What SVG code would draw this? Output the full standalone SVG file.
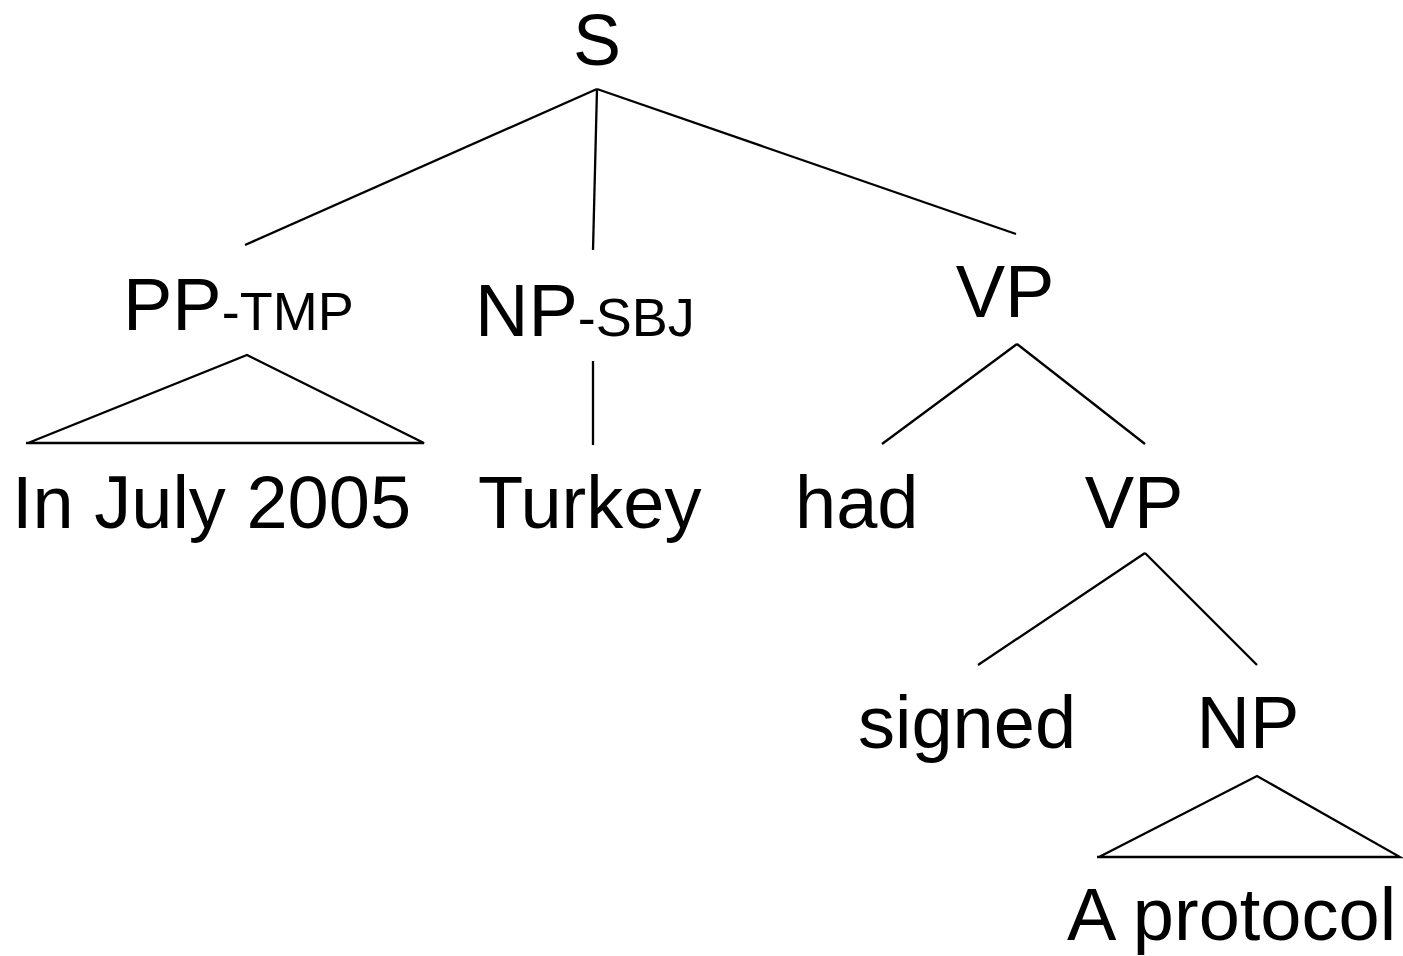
<svg xmlns="http://www.w3.org/2000/svg" width="1403" height="956" viewBox="0 0 1403 956">
<style>
text{font-family:"Liberation Sans",Arial,sans-serif;font-size:74px;fill:#000}
.sub{font-size:54px}
.m{text-anchor:middle}
#edges line,#edges polyline{stroke:#000;stroke-width:2.3;fill:none}
</style>
<rect width="1403" height="956" fill="#fff"/>
<g id="edges">
<line x1="597" y1="89" x2="245" y2="245"/>
<line x1="597" y1="89" x2="593" y2="250"/>
<line x1="597" y1="89" x2="1016" y2="234"/>
<polyline points="26,443 424,443 247,355 28,443"/>
<line x1="593" y1="361" x2="593" y2="445"/>
<line x1="1017" y1="344" x2="882" y2="444"/>
<line x1="1017" y1="344" x2="1145" y2="444"/>
<line x1="1145" y1="553" x2="978" y2="665"/>
<line x1="1145" y1="553" x2="1257" y2="665"/>
<polyline points="1097,857 1400,857 1257,776 1099,857"/>
</g>
<g id="n-S"><text class="m" x="597" y="65" style="font-size:72px">S</text></g>
<g id="n-PP"><text x="123" y="330">PP<tspan class="sub">-TMP</tspan></text></g>
<g id="n-NPSBJ"><text x="475" y="336">NP<tspan class="sub">-SBJ</tspan></text></g>
<g id="n-VP"><text class="m" x="1005" y="317">VP</text></g>
<g id="n-in"><text x="12" y="528">In July 2005</text></g>
<g id="n-turkey"><text x="478" y="528">Turkey</text></g>
<g id="n-had"><text x="795" y="528">had</text></g>
<g id="n-VP2"><text class="m" x="1134" y="528">VP</text></g>
<g id="n-signed"><text x="858" y="748">signed</text></g>
<g id="n-NP"><text class="m" x="1248" y="748">NP</text></g>
<g id="n-prot"><text x="1067" y="940">A protocol</text></g>
</svg>
